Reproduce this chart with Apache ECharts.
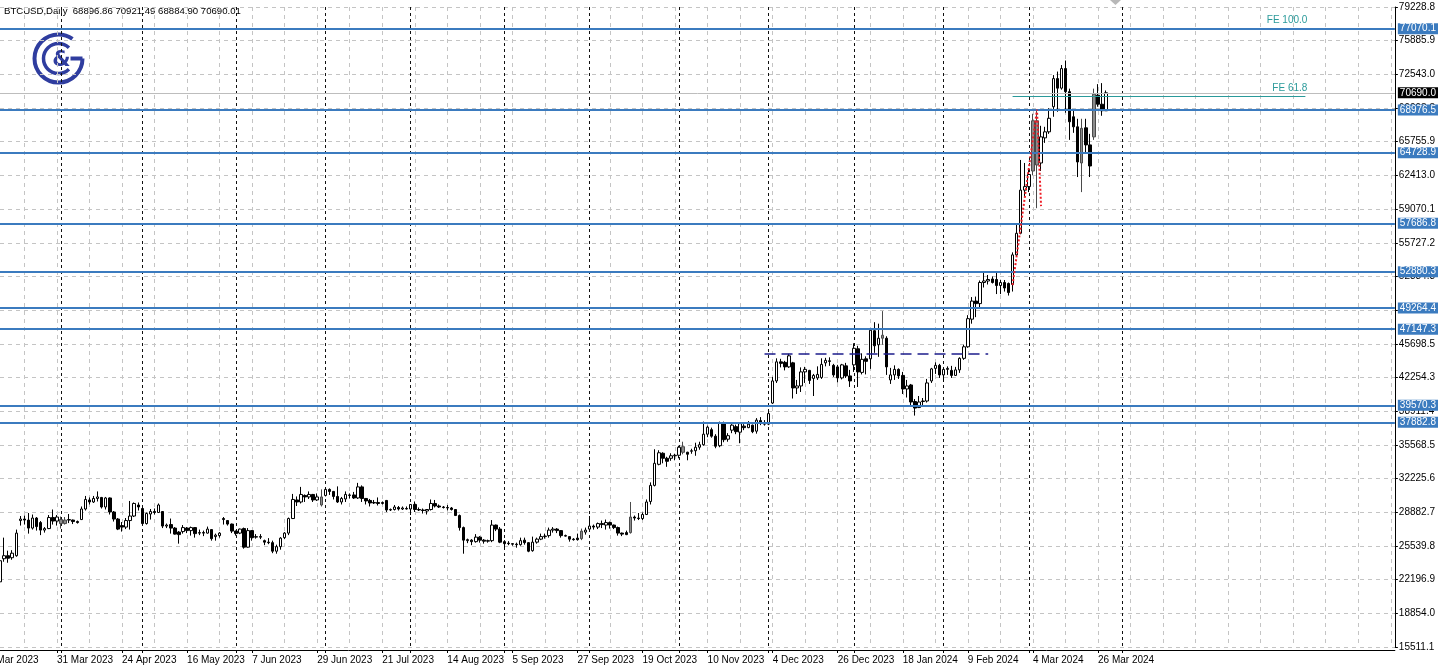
<!DOCTYPE html>
<html><head><meta charset="utf-8">
<script src="https://cdn.jsdelivr.net/npm/echarts@6/dist/echarts.min.js"></script>
<style>html,body{margin:0;padding:0;background:#fff;overflow:hidden}#c{width:1438px;height:671px}</style>
</head><body><div id="c"></div>
<script>
// ---------------- DATA ----------------
const symbolName = 'BTCUSD';
const timeframe = 'Daily';
const firstDate = '2023-03-13';          // first (partly hidden) bar
const lastBarDate = '2024-03-28';        // last bar; later slots are projected calendar days
const skippedDates = ['2024-01-01'];     // no bar on this weekday
const totalSlots = 344;                  // bars + empty space on the right

const opens = [22000,24300,24600,24400,24600,28100,28250,28150,27350,28350,27900,27150,27300,28400,28050,28200,27800,28150,28150,28000,
28200,29250,30150,29950,30300,30400,29450,30350,28950,28250,27600,27450,28100,28550,29650,29300,27800,28750,29000,28900,
29000,27550,27700,27350,26950,27000,27350,27100,27400,26850,26900,26850,27200,26500,26600,28300,28100,27750,27050,26850,
27300,25450,27100,26450,26500,26100,25950,25900,25050,25500,26400,26850,28300,30150,29950,30600,30450,30700,30150,29650,
30600,31200,31000,30500,29950,30250,30600,30650,30350,31450,30300,30100,29850,29900,29800,30100,29150,29200,29400,29250,
29300,29250,29700,29200,29150,29050,29200,29800,29550,29450,29350,29350,29200,28600,27400,26100,26150,26000,26450,26150,
26050,26100,27650,27250,26000,25850,25800,25750,25700,26150,25900,25100,25950,26250,26500,26600,27150,27250,27100,26600,
26500,26250,26350,26300,26950,27250,27550,27450,27800,27650,27900,27650,27400,26850,26900,26900,28450,28350,28300,28700,
30000,31600,33700,34800,34300,34300,34550,34600,35450,34900,35000,35050,35400,35650,36700,37150,36500,35550,37850,36200,
37100,37450,36900,37500,37350,37600,37000,38050,37800,37700,39800,42000,43900,43850,43400,43800,41300,41500,42900,43050,
42250,42300,42350,43800,44000,43550,43400,42300,43500,42500,43600,45200,42850,44200,44200,47000,45600,46550,46250,42100,
42600,43150,42550,41200,41600,39950,39350,39950,40000,42000,43250,43550,42600,43150,43050,42550,43100,44250,45400,48150,
49950,49700,51800,51950,52150,52100,51500,51800,51700,51600,54550,56700,61000,61350,62900,67900,63700,66200,66800,69300,
72100,71150,73100,70800,68300,67300,63700,67200,65500,66300,70450,69550,68896.86];
const highs = [24500,26400,25100,25150,27200,28550,28600,28850,28700,28450,28050,27450,28650,29200,28650,28500,28450,28750,28200,28100,
29500,30550,30400,30550,31000,30450,30450,30400,29050,28350,27950,28350,30050,29900,29900,29400,28900,29250,29300,29800,
29050,27800,28300,27450,27050,27650,27450,27500,27450,27200,27100,27500,27250,26800,26950,28450,28150,27800,27100,27300,
27400,27350,27150,26750,26750,26200,26350,26100,25700,26450,26950,28400,30750,30500,31450,30700,31000,30750,30800,31200,
31400,31300,31050,31500,30450,31000,30800,30950,31850,31600,30350,30250,30150,30400,30000,30150,29300,29650,29550,29500,
29500,29750,30000,29400,29300,29250,30200,30150,29700,29550,29650,29450,29250,28700,27500,26300,26250,26750,26550,26250,
26200,28150,27700,27450,26150,26050,25850,25900,26400,26400,25950,26500,26400,26800,26800,27400,27450,27350,27150,26700,
26550,26350,26800,27300,27400,28550,27700,27900,28100,28200,28000,27700,27500,26900,27100,29950,28600,28850,28900,30200,
31900,35200,35100,34900,34450,34800,34750,35550,35950,34950,35250,35850,35950,37950,37550,37350,36700,37950,37950,36800,
37700,37650,37850,37700,38000,37650,38300,38400,38100,38950,42400,44250,44200,44000,44700,43900,42100,43350,43400,43100,
42700,43450,44250,44300,44350,43700,43600,43700,43800,43100,45750,45500,44750,44450,47250,47850,47700,48950,46450,43300,
43550,43250,42900,42100,41700,40200,40500,40300,42200,43300,43850,43700,43300,43450,43500,43400,44350,45600,48550,50350,
50400,52000,52800,52550,52400,52900,52050,52050,51800,54800,57700,64000,63700,63200,68600,69000,67400,67300,69150,72450,
72800,73450,73900,71100,68900,68100,68100,68100,66600,71100,71550,71650,70921.49];
const lows = [21500,24000,23900,24200,24500,27600,27700,26800,27200,27100,26650,26900,27250,27700,27600,27300,27700,27850,27750,27800,
28150,29100,29700,29850,30000,29300,29200,28700,28000,27150,27000,27250,27200,28450,29100,27700,27700,28200,28700,28850,
27350,27350,26800,26700,25800,26800,26850,26600,26400,26650,26550,26800,26100,26100,26400,27700,27600,26850,26600,26750,
25300,25400,26100,26300,26250,25650,25750,24850,24800,25200,26250,26650,28250,29550,29800,29950,30250,29950,30050,29500,
30500,30650,30200,29850,29700,29950,30300,30250,30250,29950,29700,29500,29750,29600,29700,28950,29050,29100,29100,29150,
29200,28650,28950,29050,28800,28700,29100,29400,29350,29300,29100,29100,28550,27100,24800,25850,25650,25900,25900,25800,
25900,25950,27050,25850,25350,25650,25600,25400,25600,25700,24950,25000,25800,26150,26300,26400,26900,26850,26400,26500,
26000,26100,26100,26150,26700,27150,27200,27250,27350,27200,27300,27250,26600,26550,26650,26800,28100,28150,28150,28650,
29700,31500,33600,33800,33450,34050,34100,34300,34700,34100,34750,34550,35150,35550,36400,36350,35300,35400,35900,35950,
36800,36700,35800,37100,37300,36800,36750,37600,37550,37600,39700,41800,43350,43050,43300,40250,40700,40900,41800,41700,
40500,42100,42200,43450,43500,42400,41850,42150,42300,41400,42900,41400,42650,42650,43200,44800,44400,45600,42600,41700,
42100,42200,40700,40350,39500,38550,39300,39500,39850,41800,42700,42300,41900,42600,42300,42500,42800,44100,45300,47700,
48350,49300,51300,51600,51700,50650,50650,50900,50500,50900,54400,56600,60300,60800,62500,59200,62900,65700,66600,68300,
68800,71000,68700,66000,66700,62300,60800,64600,62300,66000,69300,68400,68884.90];
const closes = [24100,24600,24350,24850,26850,28250,28150,27350,28350,27500,27150,27300,28400,28050,28450,27800,28150,28200,28000,27900,
29250,30200,29950,30300,30450,29450,30350,28950,28250,27250,27450,28100,28550,29800,29450,27800,28800,29000,28900,29650,
27550,27650,27350,26750,26700,27400,27100,27400,26800,26900,26850,27250,26300,26650,26850,28200,27750,27050,26800,27250,
25450,27100,26400,26500,26450,25950,25900,25050,25500,26350,26850,28300,30200,29950,30700,30450,30700,30150,30450,30450,
31200,31000,30500,29950,30300,30700,30650,30350,31450,30300,30050,29850,29900,29800,29900,29150,29200,29450,29250,29350,
29250,29700,29200,29150,29100,29200,29800,29550,29450,29400,29400,29200,28600,27400,26150,26200,26000,26450,26150,26050,
26100,27650,27250,25950,25800,25800,25750,25700,26100,25900,25050,25950,26250,26500,26550,27150,27250,27100,26600,26550,
26250,26200,26200,27050,27150,27550,27450,27800,27700,27900,27650,27400,26850,26750,26700,28450,28350,28300,28700,29950,
31600,33800,34850,34300,34000,34550,34600,35400,34900,34700,35050,35400,35650,36700,37400,36500,35500,37850,36150,36550,
37600,36950,37750,37350,37700,36950,38100,37800,37700,38750,42000,43900,43750,43400,44500,41300,41500,42900,43150,42050,
42550,42650,43650,44050,43950,42600,42300,43600,42500,42000,45250,42900,44150,43950,47050,45500,46250,46250,43400,42600,
43150,42500,41200,41500,39900,39300,39900,40000,41800,43200,43550,42600,43150,43250,42550,43100,44250,45400,48200,49950,
49700,51800,51950,52100,51800,51500,51800,51250,50800,54550,56700,61000,61350,62550,67900,63500,66300,66800,68150,72100,
71150,73100,70800,67800,67300,63800,67150,65500,63400,70550,69550,68900,70690.01];
const grayBars = [15,16,79,143,155,168,217,254,255,266,269];

// price axis ticks (as printed on the chart)
const yTickLabels = ['15511.1','18854.0','22196.9','25539.8','28882.7','32225.6','35568.5','38911.4','42254.3','45698.5',
  '49041.4','52384.3','55727.2','59070.1','62413.0','65755.9','69098.8','72543.0','75885.9','79228.8'];
const yMin = 15511.1, yMax = 79228.8;

// horizontal levels drawn on the chart
const levelLines = [77070.1, 68976.5, 64728.9, 57686.8, 52880.3, 49264.4, 47147.3, 39570.3, 37882.8];
const feLevels = [{name:'FE 100.0', value:77070.1}, {name:'FE 61.8', value:70319}];
const feSpan = [249, 321];
const fePoints = [[249, 51550], [255, 69000], [256, 59400]];
const dashedLevel = 44681;
const dashedSpan = [188, 243];
const labelEvery = 16, labelFirst = 14, gridEvery = 8;
const monthNames = ['Jan','Feb','Mar','Apr','May','Jun','Jul','Aug','Sep','Oct','Nov','Dec'];

// ---------------- BUILD ----------------
function buildDates(start, lastBar, n, skip){
  const out = []; const d = new Date(start + 'T00:00:00Z');
  while (out.length < n){
    const dow = d.getUTCDay(); const s = d.toISOString().slice(0,10);
    const future = s > lastBar;
    if (future || (dow !== 0 && dow !== 6 && skip.indexOf(s) < 0)) out.push(s);
    d.setUTCDate(d.getUTCDate() + 1);
  }
  return out;
}
const categories = buildDates(firstDate, lastBarDate, totalSlots, skippedDates);
const nBars = opens.length;
function fmtDate(s){ const p = s.split('-'); return (+p[2]) + ' ' + monthNames[+p[1]-1] + ' ' + p[0]; }
const monthStart = new Set();
for (let i = 1; i < nBars + 8; i++){ if (categories[i].slice(0,7) !== categories[i-1].slice(0,7)) monthStart.add(i); }

const candleData = opens.map((o, i) => {
  const item = { value: [o, closes[i], lows[i], highs[i]] };
  if (grayBars.indexOf(i) >= 0) item.itemStyle = { color:'#8c8c8c', color0:'#8c8c8c', borderColor:'#4a4a4a', borderColor0:'#4a4a4a' };
  return item;
});

const FONT = 'Liberation Sans';
const BLUE = '#3b7bbf', TEAL = '#2a9a9a';
const lastPrice = closes[nBars-1];

const markData = [];
feLevels.forEach(f => {
  markData.push([
    { coord:[feSpan[0], f.value], lineStyle:{color:TEAL, width:1, type:'solid'},
      label:{show:true, position:'insideEndTop', formatter:f.name, color:TEAL, fontSize:10, fontFamily:FONT, distance:[-2,3]} },
    { coord:[feSpan[1], f.value] }
  ]);
});
markData.push([
  { coord:[dashedSpan[0], dashedLevel], lineStyle:{color:'#1c1c8c', width:1.5, type:[11,6]}, label:{show:false} },
  { coord:[dashedSpan[1], dashedLevel] }
]);
markData.push({ yAxis:lastPrice, lineStyle:{color:'#bdbdbd', width:1, type:'solid'},
  label:{show:true, position:'end', formatter: lastPrice.toFixed(1), backgroundColor:'#000', color:'#fff',
    padding:[1,3,0,2], fontSize:10, fontFamily:FONT, distance:3} });
levelLines.forEach(v => {
  markData.push({ yAxis:v, lineStyle:{color:BLUE, width:2, type:'solid'},
    label:{show:true, position:'end', formatter: v.toFixed(1), backgroundColor:BLUE, color:'#fff',
      padding:[1,3,0,2], fontSize:10, fontFamily:FONT, distance:3} });
});

const yStep = (yMax - yMin) / (yTickLabels.length - 1);
const isLabelIdx = (i) => i >= labelFirst && i < nBars && (i - labelFirst) % labelEvery === 0;

const chart = echarts.init(document.getElementById('c'), null, {renderer:'canvas'});
chart.setOption({
  animation:false,
  backgroundColor:'#fff',
  grid:{ left:-1.38, right:39, top:7, bottom:24, containLabel:false },
  xAxis:[{
    type:'category', data:categories, boundaryGap:false, offset:3,
    axisLine:{show:true, lineStyle:{color:'#000', width:1}},
    axisTick:{show:true, length:3, interval:(i)=>isLabelIdx(i), lineStyle:{color:'#000'}},
    axisLabel:{show:true, interval:(i)=>isLabelIdx(i), formatter:(v)=>fmtDate(v), align:'left', margin:5,
      color:'#000', fontSize:10, fontFamily:FONT},
    splitLine:{show:true, interval:(i)=> (i - labelFirst) % gridEvery === 0, lineStyle:{color:'#c4c4c4', type:[4,4], width:1}}
  },{
    type:'category', data:categories, boundaryGap:false, position:'bottom', offset:3,
    axisLine:{show:false}, axisLabel:{show:false},
    axisTick:{show:true, length:3, interval:(i)=> monthStart.has(i), lineStyle:{color:'#000'}},
    splitLine:{show:true, interval:(i)=> monthStart.has(i), lineStyle:{color:'#111', type:[3,3], width:1}}
  }],
  yAxis:{
    type:'value', position:'right', min:yMin, max:yMax, interval:yStep, scale:true,
    axisLine:{show:true, lineStyle:{color:'#000', width:1}},
    axisTick:{show:true, length:3, lineStyle:{color:'#000'}},
    axisLabel:{show:true, margin:4, color:'#000', fontSize:10, fontFamily:FONT,
      formatter:(v)=>{ const k = Math.round((v - yMin)/yStep); return yTickLabels[k] || ''; }},
    splitLine:{show:true, lineStyle:{color:'#c4c4c4', type:[4,4], width:1}}
  },
  series:[{
    type:'candlestick', data:candleData, barWidth:3, clip:true,
    itemStyle:{color:'#fff', color0:'#000', borderColor:'#000', borderColor0:'#000', borderWidth:1},
    markLine:{ silent:true, symbol:['none','none'], animation:false, data:markData }
  },{
    type:'line', data:fePoints, symbol:'none', silent:true, z:6,
    lineStyle:{color:'#ee1c25', type:'dotted', width:2}
  }],
  graphic:[
    { type:'text', left:4, top:6, style:{ text: symbolName + ',' + timeframe + '  ' + opens[nBars-1].toFixed(2) + ' ' + highs[nBars-1].toFixed(2) + ' ' + lows[nBars-1].toFixed(2) + ' ' + closes[nBars-1].toFixed(2),
      fill:'#000', font:'9.6px "Liberation Sans"' } },
    { type:'text', left:-12, top:655, style:{ text: fmtDate('2023-03-09'), fill:'#000', font:'10px "Liberation Sans"' } },
    { type:'polygon', shape:{points:[[1110,0],[1121,0],[1115.5,5]]}, style:{fill:'#b8b8b8'} },
    { type:'group', left:32, top:32, children:[
      { type:'arc', shape:{cx:26, cy:26, r:24, startAngle:0, endAngle:-0.95, clockwise:true}, style:{stroke:'#2f3d9f', lineWidth:4, fill:null} },
      { type:'line', shape:{x1:50, y1:26, x2:38, y2:26}, style:{stroke:'#2f3d9f', lineWidth:4} },
      { type:'arc', shape:{cx:26, cy:26, r:15, startAngle:0.8, endAngle:-0.8, clockwise:true}, style:{stroke:'#2f3d9f', lineWidth:3.5, fill:null} },
      { type:'text', style:{ x:29, y:28, text:'&', fill:'#2f3d9f', font:'bold 21px "DejaVu Sans"', align:'center', verticalAlign:'middle' } }
    ]}
  ]
});
</script></body></html>
